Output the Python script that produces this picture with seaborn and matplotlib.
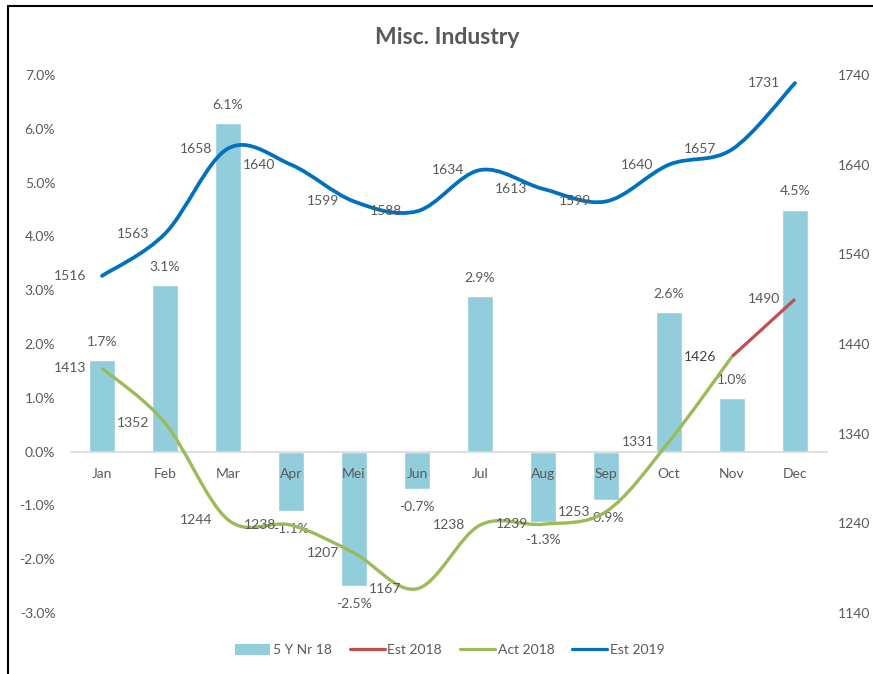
import matplotlib
matplotlib.use("Agg")
import matplotlib.pyplot as plt
import numpy as np
import pandas as pd
import seaborn as sns
from matplotlib.lines import Line2D
from matplotlib.patches import Patch, PathPatch
from matplotlib.path import Path

months = ["Jan", "Feb", "Mar", "Apr", "Mei", "Jun", "Jul", "Aug", "Sep", "Oct", "Nov", "Dec"]
nr_5y = [1.7, 3.1, 6.1, -1.1, -2.5, -0.7, 2.9, -1.3, -0.9, 2.6, 1.0, 4.5]
est_2019 = [1516, 1563, 1658, 1640, 1599, 1588, 1634, 1613, 1599, 1640, 1657, 1731]
act_2018 = [1413, 1352, 1244, 1238, 1207, 1167, 1238, 1239, 1253, 1331, 1426]
est_2018_months = ["Nov", "Dec"]
est_2018 = [1426, 1490]

BAR_C = "#92CDDC"
BLUE = "#0070C0"
GREEN = "#9BBB59"
RED = "#C0504D"
TXT = "#595959"


def smooth_path(xs, ys):
    # excel style smoothed line: catmull-rom segments as cubic beziers
    pts = np.column_stack([xs, ys]).astype(float)
    n = len(pts)
    verts = [pts[0]]
    codes = [Path.MOVETO]
    for i in range(n - 1):
        p0 = pts[max(i - 1, 0)]
        p1 = pts[i]
        p2 = pts[i + 1]
        p3 = pts[min(i + 2, n - 1)]
        verts += [p1 + (p2 - p0) / 6, p2 - (p3 - p1) / 6, p2]
        codes += [Path.CURVE4] * 3
    return Path(verts, codes)


sns.set_style("white")
plt.rcParams["font.family"] = ["Lato", "DejaVu Sans"]

fig = plt.figure(figsize=(8.73, 6.74), dpi=100)
ax = fig.add_axes([70.5 / 873, 1 - 613 / 674, 756 / 873, 538 / 674])

df = pd.DataFrame({"month": months, "val": nr_5y})
sns.barplot(data=df, x="month", y="val", color=BAR_C, width=0.42, saturation=1, ax=ax, zorder=2)

ax.set_ylim(-3, 7)
ax.set_xlim(-0.5, 11.5)
ax.set_yticks(np.arange(-3, 8, 1))
ax.set_yticklabels([f"{v:.1f}%" for v in np.arange(-3, 8, 1)])
ax.set_xlabel("")
ax.set_ylabel("")
for s in ["top", "right", "left"]:
    ax.spines[s].set_visible(False)
ax.spines["bottom"].set_position(("data", 0))
ax.spines["bottom"].set_color("#D9D9D9")
ax.spines["bottom"].set_linewidth(1.2)
ax.tick_params(axis="both", length=0, labelsize=10, labelcolor=TXT)
ax.tick_params(axis="x", pad=12)
ax.tick_params(axis="y", pad=11)
# month labels sit on top of the bars, like in excel
ax.set_axisbelow(False)
ax.xaxis.set_zorder(3)

for i, v in enumerate(nr_5y):
    ax.annotate(f"{v:.1f}%", (i, v), xytext=(0, 13 if v >= 0 else -13), textcoords="offset points",
                ha="center", va="center", fontsize=10, color=TXT, zorder=6)

ax2 = ax.twinx()
ax2.set_ylim(1140, 1740)
ax2.set_yticks(np.arange(1140, 1741, 100))
ax2.tick_params(axis="y", length=0, labelsize=10, labelcolor=TXT, pad=8)
for s in ax2.spines.values():
    s.set_visible(False)

xpos = {m: i for i, m in enumerate(months)}

# Est 2018 (straight segment)
sns.lineplot(x=[xpos[m] for m in est_2018_months], y=est_2018, color=RED, linewidth=2.3, ax=ax2,
             solid_capstyle="butt", zorder=3)

# Act 2018
ax2.add_patch(PathPatch(smooth_path(range(len(act_2018)), act_2018), facecolor="none",
                        edgecolor=GREEN, linewidth=2.4, capstyle="butt", zorder=4))
# Est 2019
ax2.add_patch(PathPatch(smooth_path(range(len(est_2019)), est_2019), facecolor="none",
                        edgecolor=BLUE, linewidth=2.7, capstyle="round", zorder=5))
ax2.set_xlim(-0.5, 11.5)

for i, v in enumerate(est_2019):
    ax2.annotate(str(v), (i, v), xytext=(-11, 0), textcoords="offset points",
                 ha="right", va="center", fontsize=10, color=TXT, zorder=6)
for i, v in enumerate(act_2018):
    ax2.annotate(str(v), (i, v), xytext=(-11, 0), textcoords="offset points",
                 ha="right", va="center", fontsize=10, color="#404040" if i == len(act_2018) - 1 else TXT,
                 zorder=6)
ax2.annotate(str(est_2018[-1]), (xpos[est_2018_months[-1]], est_2018[-1]), xytext=(-11, 0),
             textcoords="offset points", ha="right", va="center", fontsize=10, color=TXT, zorder=6)

fig.text(447 / 873, 1 - 38 / 674, "Misc. Industry", ha="center", va="center",
         fontsize=16.5, fontweight="bold", color=TXT)

handles = [Patch(facecolor=BAR_C, edgecolor="none"),
           Line2D([], [], color=RED, linewidth=2.3),
           Line2D([], [], color=GREEN, linewidth=2.3),
           Line2D([], [], color=BLUE, linewidth=2.3)]
labels = ["5 Y Nr 18", "Est 2018", "Act 2018", "Est 2019"]
leg = fig.legend(handles, labels, loc="center", bbox_to_anchor=(450 / 873, 1 - 650 / 674), ncol=4,
                 frameon=False, fontsize=10, handlelength=2.5, handleheight=0.9,
                 handletextpad=0.2, columnspacing=1.3)
for t in leg.get_texts():
    t.set_color(TXT)

# outer chart border (left and top edges visible)
fig.add_artist(Line2D([8 / 873, 8 / 873], [0, 1 - 6 / 674], color="black", linewidth=1.5))
fig.add_artist(Line2D([8 / 873, 1], [1 - 6 / 674, 1 - 6 / 674], color="black", linewidth=1.5))

fig.savefig("out.png", dpi=100)
